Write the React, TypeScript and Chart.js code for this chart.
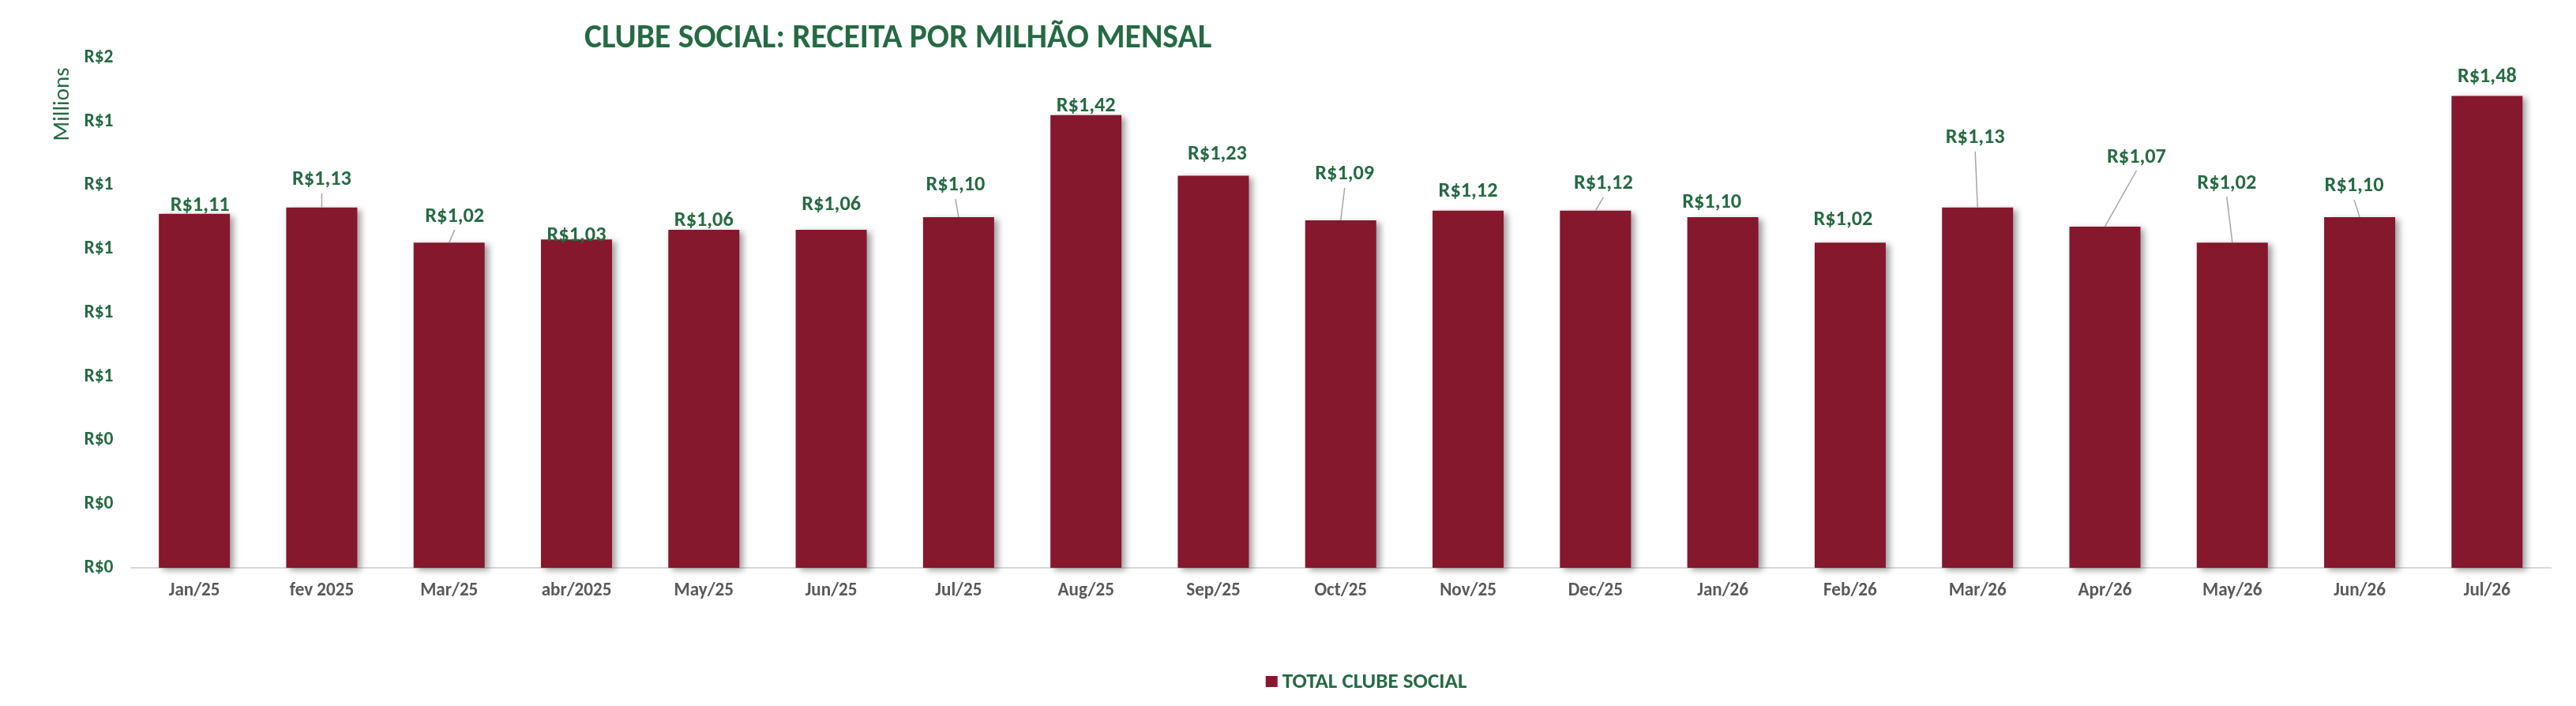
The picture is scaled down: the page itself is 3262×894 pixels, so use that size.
import { useEffect, useRef } from "react";
import { Chart, registerables } from "chart.js";

Chart.register(...registerables);

// ---------- data ----------
const categories = [
  "Jan/25", "fev 2025", "Mar/25", "abr/2025", "May/25", "Jun/25", "Jul/25",
  "Aug/25", "Sep/25", "Oct/25", "Nov/25", "Dec/25", "Jan/26", "Feb/26",
  "Mar/26", "Apr/26", "May/26", "Jun/26", "Jul/26",
];
const revenueMillions = [
  1.11, 1.13, 1.02, 1.03, 1.06, 1.06, 1.10, 1.42, 1.23, 1.09,
  1.12, 1.12, 1.10, 1.02, 1.13, 1.07, 1.02, 1.10, 1.48,
];
const seriesName = "TOTAL CLUBE SOCIAL";
const chartTitle = "CLUBE SOCIAL: RECEITA POR MILHÃO MENSAL";
const unitsLabel = "Millions";
const yMin = 0;
const yMax = 1.6;
const yStep = 0.2;

// ---------- label layout (offsets of each value label from its bar top, px) ----------
const labelShift: [number, number][] = [
  [7, 11], [0, 36], [7, 34], [0, 6], [0, 13], [0, 33], [-4, 41], [0, 12],
  [5, 28], [5, 59], [0, 25], [10, 35], [-14, 19], [-9, 30], [-3, 89],
  [40, 89], [-7, 76], [-7, 40], [0, 25],
];
const leaderLine = [
  false, true, true, false, false, false, true, false, false, true,
  false, true, false, false, true, true, true, true, false,
];

// ---------- style ----------
const FONT = "Carlito, 'Liberation Sans Narrow', Lato, 'Open Sans', sans-serif";
const GREEN = "#256A43";
const BAR = "#85182C";
const GREY_TEXT = "#595959";
const W = 3246;
const H = 878;

const money = (v: number) => "R$" + v.toFixed(2).replace(".", ",");

function fitSize(text: string, target: number, weight: string): number {
  const c = document.createElement("canvas").getContext("2d");
  if (!c) return 22;
  c.font = `${weight} 100px ${FONT}`;
  const w = c.measureText(text).width;
  return Math.round((100 * target) / w * 10) / 10;
}

export default function App() {
  const ref = useRef<HTMLCanvasElement | null>(null);

  useEffect(() => {
    if (!ref.current) return;

    const titleSize = fitSize(chartTitle, 795, "bold");
    const yTickSize = fitSize("R$2", 37, "bold");
    const xTickSize = (fitSize("Jan/25", 66, "bold") + fitSize("Aug/25", 70, "bold")) / 2;
    const labelSize = fitSize("R$1,13", 75, "bold");
    const legendSize = fitSize(seriesName, 234, "bold");
    const unitsSize = fitSize(unitsLabel, 93, "normal");

    const shadowPlugin = {
      id: "barShadow",
      beforeDatasetsDraw(chart: any) {
        const ctx = chart.ctx;
        ctx.save();
        ctx.shadowColor = "rgba(0,0,0,0.38)";
        ctx.shadowBlur = 8;
        ctx.shadowOffsetX = 5;
        ctx.shadowOffsetY = 3;
      },
      afterDatasetsDraw(chart: any) {
        chart.ctx.restore();
      },
    };

    const labelPlugin = {
      id: "valueLabels",
      afterDatasetsDraw(chart: any) {
        const ctx = chart.ctx;
        const meta = chart.getDatasetMeta(0);
        ctx.save();
        ctx.font = `bold ${labelSize}px ${FONT}`;
        ctx.textAlign = "center";
        ctx.textBaseline = "middle";
        meta.data.forEach((bar: any, i: number) => {
          const { x, y } = bar.getProps(["x", "y"], true);
          const [dx, dy] = labelShift[i];
          const lx = x + dx;
          const ly = y - dy;
          if (leaderLine[i]) {
            ctx.strokeStyle = "#A6A6A6";
            ctx.lineWidth = 1.5;
            ctx.beginPath();
            ctx.moveTo(lx, ly + 18);
            ctx.lineTo(x, y);
            ctx.stroke();
          }
          ctx.fillStyle = GREEN;
          ctx.fillText(money(revenueMillions[i]), lx, ly + 1);
        });
        ctx.restore();
      },
    };

    const textPlugin = {
      id: "titleLegendUnits",
      afterDraw(chart: any) {
        const ctx = chart.ctx;
        const area = chart.chartArea;
        ctx.save();
        // title
        ctx.font = `bold ${titleSize}px ${FONT}`;
        ctx.fillStyle = GREEN;
        ctx.textAlign = "left";
        ctx.textBaseline = "middle";
        ctx.fillText(chartTitle, 732, 42);
        // units label (display units)
        ctx.save();
        ctx.translate(72, 124);
        ctx.rotate(-Math.PI / 2);
        ctx.textAlign = "center";
        ctx.font = `normal ${unitsSize}px ${FONT}`;
        ctx.fillText(unitsLabel, 0, 0);
        ctx.restore();
        // legend
        ctx.font = `bold ${legendSize}px ${FONT}`;
        const box = 15;
        const gap = 6;
        const x0 = area.left + (area.right - area.left) / 2 - 127 + 32;
        const yc = 855;
        ctx.fillStyle = BAR;
        ctx.fillRect(x0, yc - 7, box, 14);
        ctx.fillStyle = GREEN;
        ctx.textAlign = "left";
        ctx.fillText(seriesName, x0 + box + gap, yc + 1);
        ctx.restore();
      },
    };

    const chart = new Chart(ref.current, {
      type: "bar",
      data: {
        labels: categories,
        datasets: [
          {
            label: seriesName,
            data: revenueMillions,
            backgroundColor: BAR,
            borderWidth: 0,
            categoryPercentage: 1,
            barPercentage: 0.558,
            clip: false as any,
          },
        ],
      },
      options: {
        animation: false,
        responsive: false,
        devicePixelRatio: 1,
        layout: { padding: { top: 65, left: 0, right: 24, bottom: 107 } },
        plugins: {
          legend: { display: false },
          title: { display: false },
          tooltip: { enabled: false },
        },
        scales: {
          x: {
            grid: { display: false, drawTicks: false },
            border: { display: true, color: "#D9D9D9", width: 2 },
            ticks: {
              color: GREY_TEXT,
              font: { family: FONT, size: xTickSize, weight: "bold" },
              padding: 15,
              maxRotation: 0,
              autoSkip: false,
            },
            afterFit(scale: any) {
              scale.height = 60;
            },
          },
          y: {
            min: yMin,
            max: yMax,
            grid: { display: false, drawTicks: false },
            border: { display: false },
            ticks: {
              stepSize: yStep,
              color: GREEN,
              font: { family: FONT, size: yTickSize, weight: "bold" },
              padding: 22,
              callback: (v: any) => "R$" + Math.round(Number(v)),
            },
            afterFit(scale: any) {
              scale.width = 157.5;
            },
          },
        },
      },
      plugins: [shadowPlugin, labelPlugin, textPlugin],
    });

    return () => chart.destroy();
  }, []);

  return (
    <div style={{ width: W, height: H }}>
      <canvas ref={ref} width={W} height={H} style={{ width: W, height: H, display: "block" }} />
    </div>
  );
}
